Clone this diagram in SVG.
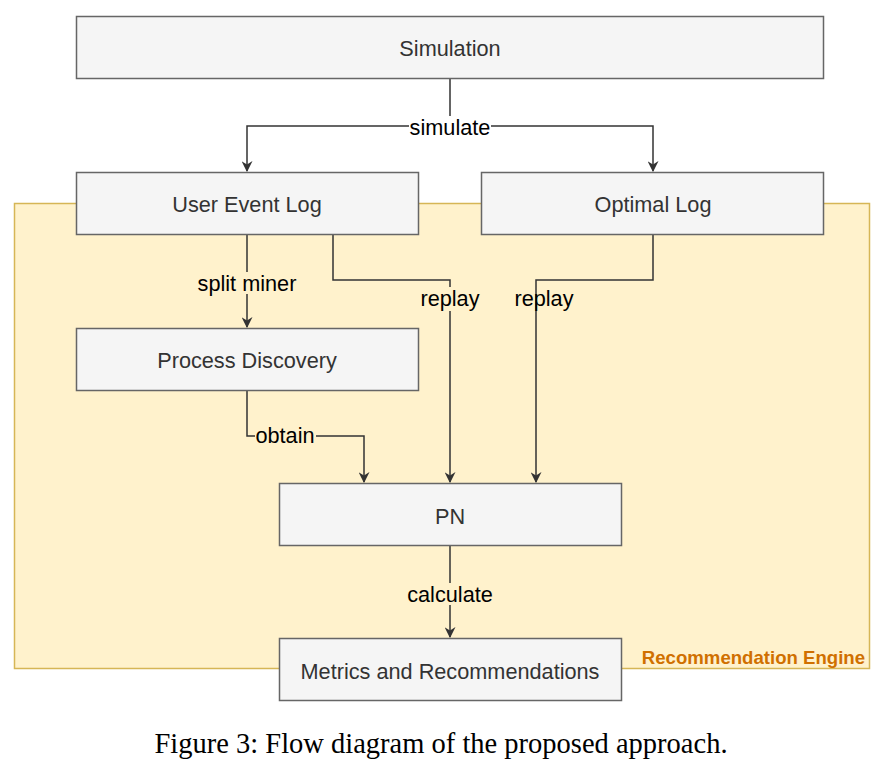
<svg xmlns="http://www.w3.org/2000/svg" width="890" height="760" viewBox="0 0 890 760">
<defs>
<style>
.box{fill:#f5f5f5;stroke:#666666;stroke-width:1.5}
.nt{font-family:"Liberation Sans",Arial,sans-serif;font-size:21.7px;fill:#333333;text-anchor:middle;dominant-baseline:central}
.lbl{font-family:"Liberation Sans",Arial,sans-serif;font-size:21.7px;fill:#000000;text-anchor:middle;dominant-baseline:central}
.edge{fill:none;stroke:#333333;stroke-width:1.5}
</style>
<marker id="arr" viewBox="0 0 10 10" refX="9" refY="5" markerWidth="11" markerHeight="11" markerUnits="userSpaceOnUse" orient="auto">
<path d="M0,0 L10,5 L0,10 L3,5 Z" fill="#333333"/>
</marker>
</defs>
<rect width="890" height="760" fill="#ffffff"/>
<g id="container">
<rect x="14.5" y="203.5" width="855" height="465" fill="#fff2cc" stroke="#d6b656" stroke-width="1.5"/>
<text x="865" y="657" font-family="'Liberation Sans',Arial,sans-serif" font-size="18.6" font-weight="bold" fill="#d07000" text-anchor="end" dominant-baseline="central">Recommendation Engine</text>
</g>
<g id="connectors">
<path class="edge" d="M450,78 V126 H247 V171" marker-end="url(#arr)"/>
<path class="edge" d="M450,126 H653 V171" marker-end="url(#arr)"/>
<path class="edge" d="M247,234 V327" marker-end="url(#arr)"/>
<path class="edge" d="M333,234 V280 H450 V482" marker-end="url(#arr)"/>
<path class="edge" d="M653,234 V280 H536 V482" marker-end="url(#arr)"/>
<path class="edge" d="M247,390 V436 H364 V482" marker-end="url(#arr)"/>
<path class="edge" d="M450,545 V637" marker-end="url(#arr)"/>
<rect x="409" y="116" width="82" height="22" fill="#ffffff"/>
<text class="lbl" x="450" y="127">simulate</text>
<rect x="196" y="272" width="102" height="22" fill="#fff2cc"/>
<text class="lbl" x="247" y="283">split miner</text>
<rect x="419" y="287" width="62" height="24" fill="#fff2cc"/>
<text class="lbl" x="450" y="298">replay</text>
<text class="lbl" x="544" y="298">replay</text>
<rect x="255" y="425" width="61" height="22" fill="#fff2cc"/>
<text class="lbl" x="285" y="435">obtain</text>
<rect x="405" y="583" width="90" height="22" fill="#fff2cc"/>
<text class="lbl" x="450" y="594">calculate</text>
</g>
<g id="simulation">
<rect class="box" x="76.5" y="16.5" width="747" height="62"/>
<text class="nt" x="450" y="48">Simulation</text>
</g>
<g id="user-event-log">
<rect class="box" x="76.5" y="172.5" width="342" height="62"/>
<text class="nt" x="247" y="204">User Event Log</text>
</g>
<g id="optimal-log">
<rect class="box" x="481.5" y="172.5" width="342" height="62"/>
<text class="nt" x="653" y="204">Optimal Log</text>
</g>
<g id="process-discovery">
<rect class="box" x="76.5" y="328.5" width="342" height="62"/>
<text class="nt" x="247" y="360">Process Discovery</text>
</g>
<g id="pn">
<rect class="box" x="279.5" y="483.5" width="342" height="62"/>
<text class="nt" x="450" y="516">PN</text>
</g>
<g id="metrics">
<rect class="box" x="279.5" y="638.5" width="342" height="62"/>
<text class="nt" x="450" y="671">Metrics and Recommendations</text>
</g>
<text x="441" y="753" font-family="'Liberation Serif','Times New Roman',serif" font-size="28.5" fill="#000000" text-anchor="middle">Figure 3: Flow diagram of the proposed approach.</text>
</svg>
